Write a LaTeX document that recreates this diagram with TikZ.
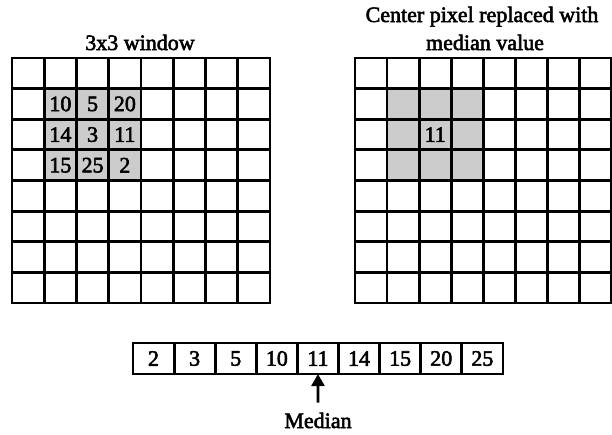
\documentclass[tikz,border=0pt]{standalone}
\usepackage{fontspec}
\setmainfont{Liberation Serif}[RawFeature={embolden=2.5}]
\usetikzlibrary{arrows.meta}
\begin{document}
\begin{tikzpicture}[x={(1pt,0pt)},y={(0pt,-1pt)},
  gridline/.style={line width=2.8pt, line cap=rect},
  shade/.style={fill=black!20},
  pixval/.style={inner sep=0pt, font=\fontsize{22}{24}\selectfont},
  title/.style={inner sep=0pt, anchor=base, font=\fontsize{22}{26}\selectfont},
  slot/.style={draw, line width=2.8pt, minimum width=41.1pt, minimum height=31pt,
    inner sep=0pt, outer sep=0pt, font=\fontsize{22}{24}\selectfont},
  pointer/.style={line width=2.6pt, -{Triangle[width=13pt,length=12pt]}},
]
\useasboundingbox (0,0) rectangle (612,434);

% ---- left image: 8x8 pixels with the 3x3 window ----
\fill[shade] (44.25,88.625) rectangle (141,180.5);
\foreach \i in {0,...,8} {
  \draw[gridline] ({12+32.25*\i},58) -- ({12+32.25*\i},303);
  \draw[gridline] (12,{58+30.625*\i}) -- (270,{58+30.625*\i});
}
\node[title] (ltitle) at (140,50) {3x3 window};
\foreach \r/\c/\v in {1/1/10,1/2/5,1/3/20,2/1/14,2/2/3,2/3/11,3/1/15,3/2/25,3/3/2}
  \node[pixval] (w-\r-\c) at ({12+32.25*(\c+0.5)},{58+30.625*(\r+0.5)}) {\v};

% ---- right image: centre pixel replaced by the median ----
\fill[shade] (387.06,88.625) rectangle (483.25,180.5);
\foreach \i in {0,...,8} {
  \draw[gridline] ({355+32.0625*\i},58) -- ({355+32.0625*\i},303);
  \draw[gridline] (355,{58+30.625*\i}) -- (611.5,{58+30.625*\i});
}
\node[title] (rtitle1) at (482,22) {Center pixel replaced with};
\node[title] (rtitle2) at (485,50) {median value};
\node[pixval] (centre) at (435.2,134.56) {11};

% ---- sorted window values ----
\foreach \v [count=\k from 0] in {2,3,5,10,11,14,15,20,25}
  \node[slot] (s\k) at ({133+41.1*(\k+0.5)},358.5) {\v};

\node[title] (median) at (318,428) {Median};
\draw[pointer] (median.north) ++(0,-10) coordinate (ptail) (ptail) -- (s4.south);
\end{tikzpicture}
\end{document}
